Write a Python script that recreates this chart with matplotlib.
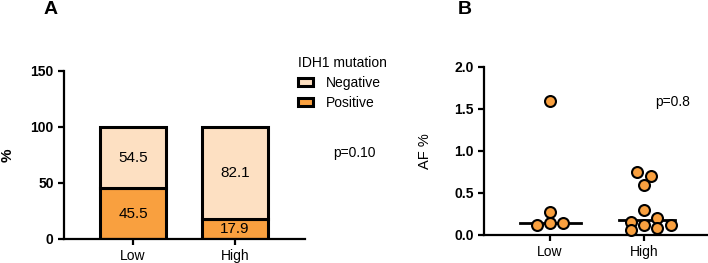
import numpy as np
import matplotlib.pyplot as plt
from matplotlib.patches import Patch

plt.rcParams['font.family'] = ['Liberation Sans', 'DejaVu Sans']

# --- panel A data ---
groups = ['Low', 'High']
positive = [45.5, 17.9]
negative = [54.5, 82.1]
p_a = 'p=0.10'

# --- panel B data ---
af_low = [1.6, 0.27, 0.115, 0.14, 0.14]
af_high = [0.75, 0.70, 0.60, 0.30, 0.20, 0.16, 0.055, 0.115, 0.08, 0.115]
p_b = 'p=0.8'

# swarm offsets (in marker widths)
off_low = [0, 0, -1, 0, 1]
off_high = [-0.5, 0.5, 0, 0, 1, -1, -1, 0, 1, 2]

c_pos = '#F9A03F'
c_neg = '#FDE0C2'

fig = plt.figure(figsize=(7.08, 2.63), dpi=100)

# ——— A ———
ax = fig.add_axes([64/708, 1-239/263, 241/708, 168/263])
x = np.arange(len(groups))
ax.bar(x, positive, width=0.64, color=c_pos, edgecolor='black', linewidth=2.2)
ax.bar(x, negative, bottom=positive, width=0.64, color=c_neg, edgecolor='black', linewidth=2.2)
for i in range(len(groups)):
    ax.text(x[i], positive[i] / 2, f'{positive[i]:.1f}', ha='center', va='center', fontsize=11)
    ax.text(x[i], positive[i] + negative[i] / 2, f'{negative[i]:.1f}', ha='center', va='center',
            fontsize=11)
ax.set_xlim(-0.676, 1.686)
ax.set_ylim(0, 150)
ax.set_yticks([0, 50, 100, 150])
ax.set_xticks(x)
ax.set_xticklabels(groups, fontsize=10)
for t in ax.get_yticklabels():
    t.set_fontweight('bold')
    t.set_fontsize(10)
ax.set_ylabel('%', fontsize=11, fontweight='bold')
ax.yaxis.set_label_coords(-0.205, 0.5)
ax.spines[['top', 'right']].set_visible(False)
ax.spines[['left', 'bottom']].set_linewidth(1.6)
ax.tick_params(width=1.6, length=4)
ax.text(1.96, 77, p_a, fontsize=10, ha='left', va='center')
leg = ax.legend(handles=[Patch(facecolor=c_neg, edgecolor='black', linewidth=2.2, label='Negative'),
                         Patch(facecolor=c_pos, edgecolor='black', linewidth=2.2, label='Positive')],
                title='IDH1 mutation', loc='upper left', bbox_to_anchor=(0.93, 1.148),
                frameon=False, fontsize=10, title_fontsize=10, handlelength=1.1,
                handleheight=0.5, handletextpad=0.9, labelspacing=0.45, borderpad=0.2)
leg._legend_box.align = 'left'
fig.text(44/708, 1-10/263, 'A', fontsize=14, fontweight='bold', va='center')

# ——— B ———
bx = fig.add_axes([484/708, 1-235/263, 223/708, 168/263])
step = 0.142
for i, (vals, offs) in enumerate([(af_low, off_low), (af_high, off_high)]):
    xs = i + np.array(offs) * step
    bx.scatter(xs, vals, s=62, color=c_pos, edgecolor='black', linewidth=1.5, zorder=3,
               clip_on=False)
    med = np.median(vals)
    bx.plot([i - 0.32 + 0.05 * i, i + 0.33], [med, med], color='black', lw=2, zorder=2)
bx.set_xlim(-0.702, 1.67)
bx.set_ylim(0, 2.0)
bx.set_yticks([0, 0.5, 1.0, 1.5, 2.0])
bx.set_yticklabels(['0.0', '0.5', '1.0', '1.5', '2.0'])
bx.set_xticks([0, 1])
bx.set_xticklabels(groups, fontsize=10)
for t in bx.get_yticklabels():
    t.set_fontweight('bold')
    t.set_fontsize(10)
bx.set_ylabel('AF %', fontsize=10.5)
bx.yaxis.set_label_coords(-0.233, 0.5)
bx.spines[['top', 'right']].set_visible(False)
bx.spines[['left', 'bottom']].set_linewidth(1.6)
bx.tick_params(width=1.6, length=4)
bx.text(1.117, 1.58, p_b, fontsize=10, ha='left', va='center')
fig.text(458/708, 1-10/263, 'B', fontsize=14, fontweight='bold', va='center')

fig.savefig('out.png', dpi=100)
